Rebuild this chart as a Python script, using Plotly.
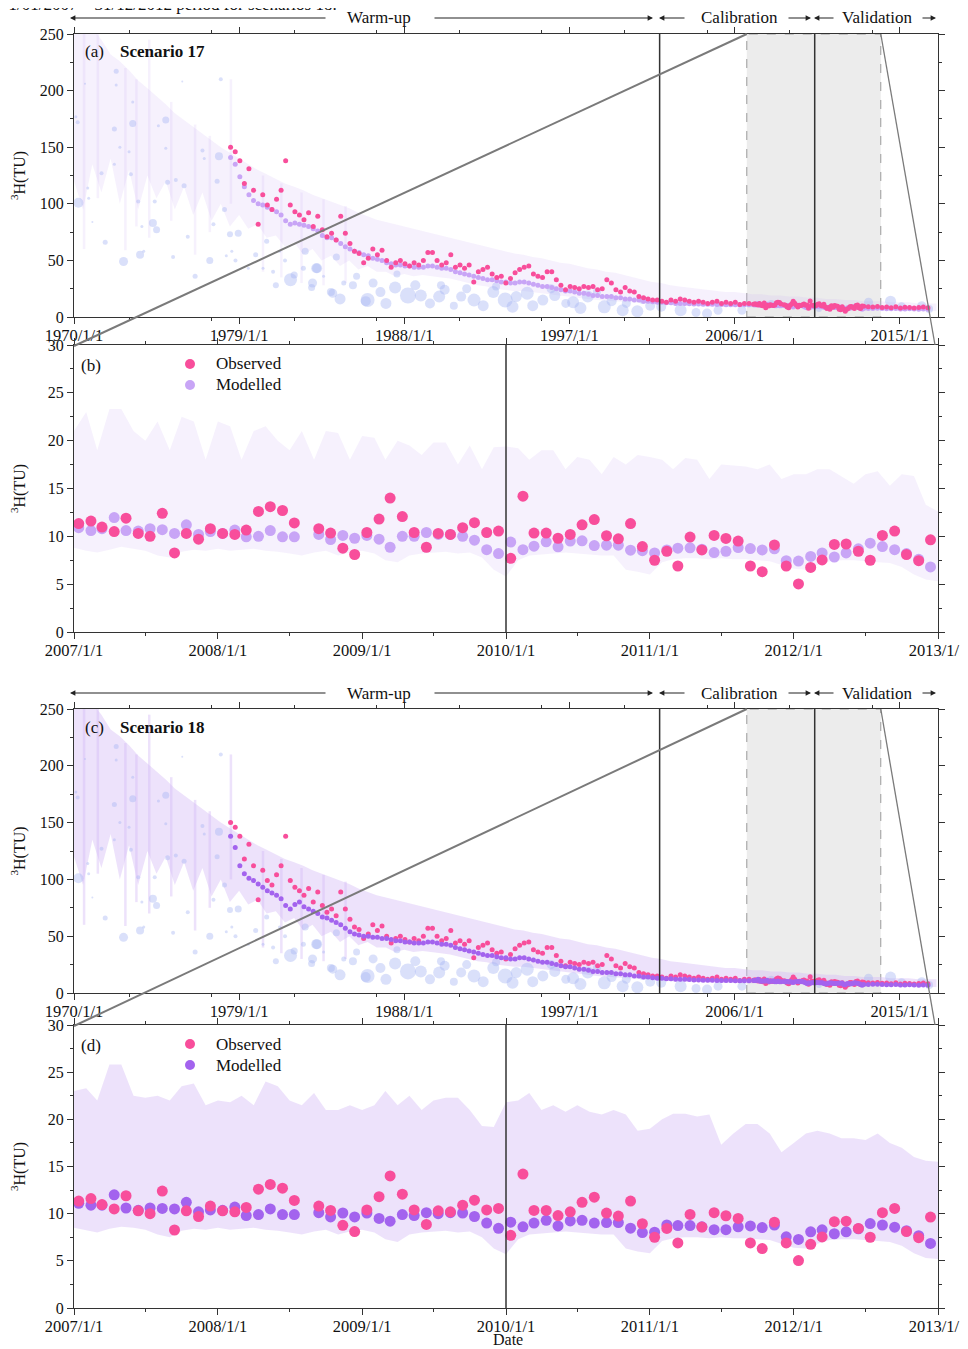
import pandas as pd
import plotly.graph_objects as go

# ---------------- DATA ----------------
# Long panels (a),(c): quarterly points 1978Q3 - 2006Q4
obs_q_early = [150, 146,
               138, 118, 131, 112,   82, 108, 99, 95,   104, 112, 138, 99,   93, 90, 86, 92,
               80, 89, 77, 71,       74, 68, 89, 74,    65, 58, 56, 48,      52, 60, 55, 59,
               50, 44, 48, 50,       47, 45, 48, 46,    50, 57, 57, 50,      46, 48, 55, 44,
               46, 43, 46, 31,       40, 42, 44, 38,    35, 36, 30, 34,      39, 42, 44, 45,
               38, 36, 35, 40,       40, 33, 28, 24,    27, 26, 25, 27,      26, 27, 24, 25,
               33, 30, 24, 22,       26, 23, 22, 18,    17, 16, 15, 15,      14, 13, 15, 14,
               16, 15, 14, 13,       14, 13, 12, 13,    14, 12, 13, 12,      13, 11, 12, 12]
mod17_q_early = [141, 135,
                 124, 115, 108, 103,  100, 99, 97, 95,  93, 90, 85, 82,  83, 82, 81, 80,
                 78, 76, 72, 70,      70, 68, 65, 62,   60, 58, 57, 55,  54, 52, 51, 50]
mod18_q_early = [138, 128,
                 112, 105, 101, 99,   96, 93, 90, 88,   86, 83, 77, 74,  78, 80, 76, 74,
                 72, 70, 67, 66,      64, 62, 60, 57,   54, 52, 51, 50,  50, 49, 49, 48]
mod_q_mid = [48, 47, 46, 46,  45, 45, 44, 44,  44, 45, 45, 44,  43, 43, 42, 40,
             39, 38, 37, 36,  35, 34, 33, 33,  32, 31, 31, 30,  30, 31, 31, 30,
             29, 28, 27, 27,  26, 25, 24, 23,  23, 22, 21, 21,  20, 19, 19, 18,
             18, 18, 17, 17,  16, 16, 15, 15,  14, 14, 13.5, 13,  13, 12.5, 12.5, 12,
             12, 12, 11.8, 11.5,  11.5, 11.3, 11.2, 11.2,  11, 11, 10.9, 10.9,  10.8, 10.8, 10.8, 10.8]
# quarterly 2013Q1 - 2016Q3
obs_q_late = [9.5, 9.0, 8.8, 9.2, 8.5, 8.8, 8.2, 9.0, 8.0, 8.6, 8.3, 8.0, 8.4, 8.8, 8.1]
mod_q_late = [7.5, 7.4, 7.6, 7.8, 7.5, 7.3, 7.2, 7.4, 7.1, 7.0, 7.2, 7.0, 6.9, 7.1, 6.9]

# Monthly 2007-01 .. 2012-12 (panels b, d)
obs_m = [11.33, 11.6, 10.97, 10.5, 11.9, 10.3, 10.0, 12.4, 8.27, 10.3, 9.7, 10.8,
         10.3, 10.2, 10.66, 12.6, 13.1, 12.7, 11.4, None, 10.8, 10.34, 8.76, 8.1,
         10.4, 11.8, 14.0, 12.07, 10.4, 8.86, 10.3, 10.2, 10.9, 11.43, 10.4, 10.55,
         7.7, 14.2, 10.34, 10.34, 9.8, 10.2, 11.2, 11.75, 10.06, 9.74, 11.33, 8.93,
         7.5, 8.44, 6.9, 9.92, 8.58, 10.1, 9.78, 9.5, 6.9, 6.3, 9.1, 6.9,
         5.03, 6.75, 7.53, 9.15, 9.2, 8.44, 7.5, 10.1, 10.55, 8.1, 7.46, 9.64]
mod17_m = [10.9, 10.6, 10.8, 11.96, 10.6, 10.55, 10.8, 10.7, 10.3, 11.2, 10.2, 10.5,
           10.3, 10.66, 9.95, 10.0, 10.6, 9.95, 9.95, None, 10.2, 9.67, 10.1, 9.8,
           10.1, 9.7, 8.86, 10.0, 10.0, 10.4, 10.2, 10.2, 10.0, 9.6, 8.6, 8.2,
           9.4, 8.6, 8.97, 9.43, 8.9, 9.5, 9.53, 9.04, 9.07, 9.07, 8.55, 8.5,
           8.27, 8.58, 8.76, 8.8, 8.65, 8.3, 8.44, 8.83, 8.72, 8.58, 8.7, 7.46,
           7.42, 7.9, 8.27, 7.84, 8.27, 8.7, 9.29, 8.93, 8.6, 8.2, 7.6, 6.8]
mod18_m = [11.1, 10.9, 10.9, 12.0, 10.6, 10.35, 10.6, 10.56, 10.5, 11.2, 10.2, 10.4,
           10.35, 10.7, 9.8, 9.9, 10.5, 9.9, 9.9, None, 10.1, 9.65, 10.07, 9.65,
           10.07, 9.5, 9.2, 9.9, 9.8, 10.1, 10.0, 10.1, 10.07, 9.7, 9.0, 8.45,
           9.1, 8.6, 9.0, 9.3, 8.7, 9.23, 9.3, 9.0, 9.06, 9.06, 8.46, 8.0,
           8.04, 8.8, 8.74, 8.74, 8.6, 8.3, 8.3, 8.6, 8.7, 8.53, 8.8, 7.55,
           7.27, 8.08, 8.29, 7.87, 8.08, 8.4, 8.95, 8.8, 8.57, 8.2, 7.66, 6.85]

# Modelled range band, long panels (semi-annual 1970.0 .. 2017.0)
band_long_upper = [270, 262, 255, 245, 232, 226, 218, 209, 202, 195, 188, 180, 174, 168, 162, 156,
                   150, 145, 140, 135, 130, 126, 122, 118, 115, 112, 108, 105, 102, 99, 96, 92,
                   89, 86, 84, 82, 80, 78, 76, 74, 72, 70, 68, 66, 64, 62, 60, 58,
                   56, 55, 53, 52, 50, 48, 47, 45, 43, 42, 40, 39, 37, 35, 33, 31,
                   30, 28, 27, 26, 25, 24, 23, 22, 22, 21, 20, 20, 19, 19, 18, 18,
                   17, 17, 16, 16, 15, 15, 14, 14, 14, 13, 13, 13, 12, 12, 12]
band_long_lower = [120, 95, 135, 110, 140, 100, 130, 95, 125, 105, 120, 95, 115, 90, 110, 85,
                   100, 80, 90, 78, 82, 70, 72, 62, 66, 55, 60, 50, 54, 45, 50, 42,
                   45, 40, 40, 36, 38, 36, 37, 36, 35, 34, 32, 30, 28, 27, 25, 24,
                   23, 23, 22, 21, 20, 19, 18, 17, 16, 15, 14.5, 14, 13, 12.5, 12, 11.5,
                   11, 10.5, 10, 9.8, 9.5, 9.3, 9.0, 8.8, 8.7, 8.6, 8.5, 8.5, 8.4, 8.3, 8.2, 8.0,
                   6.0, 7.8, 7.5, 7.4, 7.0, 7.0, 6.5, 6.3, 6.2, 6.0, 5.8, 5.7, 5.5, 5.4, 5.3]
# Narrow spikes of the modelled range in the warm-up years (year, low, high)
spike_year = [1970.55, 1971.3, 1972.8, 1973.4, 1974.1, 1975.3, 1976.6, 1977.4, 1978.55,
              1980.3, 1981.3, 1982.4, 1983.6, 1984.8]
spike_low = [60, 105, 59, 80, 70, 85, 55, 75, 100, 40, 35, 30, 28, 30]
spike_high = [250, 250, 220, 210, 245, 190, 170, 160, 210, 125, 118, 110, 104, 98]

# Modelled range band, short panels (monthly 2007-01 .. 2013-01)
band_b_upper = [21, 23, 19, 23.3, 23.3, 21, 20, 22, 19, 22.5, 22, 18,
                22, 21.5, 18, 21, 21.5, 20, 19, 21, 18, 21, 20.8, 18,
                20.5, 20.3, 18, 20, 19.5, 18.5, 19.8, 19.8, 17.5, 19.5, 17, 19.3,
                19.4, 19.2, 18, 19, 19, 17, 18.3, 18, 16.5, 18.3, 17.5, 18.5,
                18.3, 18, 17, 18.2, 18, 16, 17.5, 17.4, 17.3, 17, 17.5, 16,
                16.5, 16.5, 17, 17, 16.3, 15.5, 16.5, 16.8, 15.3, 16.5, 16.3, 13.3, 12.6]
band_b_lower = [8.8, 8.5, 8.3, 8.6, 8.9, 8.7, 8.5, 8.0, 7.8, 8.4, 8.6, 8.5,
                8.7, 8.5, 8.6, 8.7, 8.5, 8.4, 8.2, 8.0, 8.3, 8.5, 8.0, 8.3,
                8.5, 8.2, 7.5, 7.3, 8.0, 8.2, 8.3, 8.4, 8.2, 8.3, 7.8, 6.5,
                5.8, 7.5, 8.0, 8.1, 8.2, 8.3, 8.2, 8.1, 8.0, 8.0, 6.5, 6.3,
                6.0, 7.3, 7.6, 7.7, 7.7, 7.6, 7.7, 7.6, 7.6, 7.5, 7.4, 7.0,
                6.6, 6.5, 7.0, 7.4, 7.5, 7.5, 7.4, 7.3, 7.2, 6.8, 6.0, 5.5, 5.3]
band_d_upper = [23, 23.3, 22, 25.8, 25.8, 22.5, 22.3, 22.5, 22, 23.5, 23.8, 21.5,
                22, 21.8, 22.5, 21.5, 24, 23.5, 22, 21.5, 22.8, 21, 21, 21.5,
                21, 21.5, 23, 21.5, 22.5, 21, 22, 22.3, 22.3, 21, 19.3, 19.2,
                21.8, 22, 22.8, 21, 21.5, 20.8, 21.5, 20.8, 20.5, 21, 20.5, 18.8,
                19, 20, 20.6, 20.6, 20.3, 20.5, 17.3, 18.5, 19.5, 19.5, 18.5, 16.5,
                17.5, 18.5, 18.8, 18.5, 18, 18, 17.8, 18.5, 17.5, 17, 16, 15.6, 15.5]
band_d_lower = [8.5, 8.2, 8.0, 8.4, 8.6, 8.5, 8.3, 7.8, 7.5, 8.2, 8.4, 8.3,
                8.5, 8.3, 8.4, 8.5, 8.3, 8.2, 8.0, 7.8, 8.1, 8.3, 7.8, 8.1,
                8.3, 8.0, 7.3, 7.0, 7.8, 8.0, 8.1, 8.2, 8.0, 8.1, 7.5, 6.3,
                5.7, 7.3, 7.8, 7.9, 8.0, 8.1, 8.0, 7.9, 7.8, 7.8, 6.3, 6.0,
                5.8, 7.1, 7.4, 7.5, 7.5, 7.4, 7.5, 7.4, 7.4, 7.3, 7.2, 6.8,
                6.4, 6.3, 6.8, 7.2, 7.3, 7.3, 7.2, 7.1, 7.0, 6.6, 5.8, 5.3, 5.2]

# Background bubbles (decimal year, value, diameter)
bub_year = [1970.24, 1970.2, 1970.1, 1970.6, 1970.75, 1970.8, 1971.0, 1971.5, 1971.7, 1972.2,
            1972.3, 1972.3, 1972.2, 1972.5, 1972.7, 1973.0, 1973.1, 1973.2, 1973.2, 1973.6,
            1973.7, 1973.8, 1973.5, 1974.3, 1974.5, 1974.6, 1974.4, 1975.0, 1975.0, 1975.1,
            1975.4, 1975.55, 1975.9, 1976.0, 1976.2, 1976.6, 1977.0, 1977.1, 1977.4, 1977.6,
            1977.8, 1977.9, 1978.0, 1978.2, 1978.5, 1978.3, 1978.6, 1978.8, 1979.5, 1979.9,
            1980.3, 1980.5, 1980.85, 1981.0, 1981.2, 1981.5, 1981.8, 1982.0, 1982.6, 1982.5,
            1982.95, 1983.2, 1983.6, 1984.0, 1984.3, 1984.7, 1985.2, 1985.4, 1985.9, 1986.0,
            1986.7, 1987.5, 1987.6, 1988.2, 1988.9, 1989.9, 1990.2, 1990.7, 1991.1, 1991.8,
            1992.85, 1993.5, 1994.1, 1994.7, 1995.55, 1996.2, 1996.8, 1997.2, 1998.0, 1998.9,
            1999.9, 2000.1, 2001.4, 2002.0, 2003.06, 2003.9, 2005.1, 2006.4, 2008.0, 2010.6,
            2013.3, 2014.5, 2015.1, 2016.2, 2016.6, 1978.95, 1983.25, 1984.1,
            1986.3, 1987.0, 1988.6, 1989.4, 1990.0, 1991.4, 1992.3, 1993.0, 1993.9, 1995.0,
            1996.0, 1997.6, 1998.5, 1999.3, 2000.7, 2001.0, 2004.5, 1984.5, 1983.0]
bub_val = [101, 172, 177, 206, 114, 105, 84, 127, 66, 135,
           217, 205, 166, 150, 49, 146, 126, 190, 171, 55,
           80, 58, 102, 83, 77, 169, 102, 174, 149, 119,
           53, 121, 208, 116, 71, 36, 147, 140, 50, 82,
           120, 142, 210, 95, 73, 54, 58, 50, 43, 55,
           43, 67, 40, 28, 58, 50, 33, 37, 58, 43,
           26, 43, 36, 22, 53, 30, 28, 36, 14, 15,
           22, 26, 38, 19, 19, 18, 24, 10, 18, 15,
           22, 15, 18, 21, 15, 19, 12, 13, 18, 9,
           6, 12, 10, 9, 6, 4, 6, 6, 12, 7,
           13, 14, 9, 10, 7, 74, 43, 21,
           30, 12, 28, 12, 28, 25, 10, 27, 9, 10,
           25, 8, 22, 14, 5, 15, 3, 16, 30]
bub_size = [10, 4, 3, 2, 3, 3, 2, 4, 5, 3,
            5, 3, 5, 3, 9, 3, 4, 3, 7, 8,
            3, 3, 4, 8, 7, 3, 4, 7, 3, 5,
            4, 4, 2, 5, 4, 5, 4, 3, 7, 4,
            5, 8, 4, 5, 6, 3, 3, 4, 3, 5,
            3, 5, 4, 6, 3, 4, 13, 7, 7, 5,
            7, 10, 3, 8, 7, 5, 8, 7, 10, 14,
            10, 12, 7, 16, 12, 12, 10, 8, 10, 13,
            12, 15, 11, 13, 11, 11, 9, 12, 12, 13,
            12, 9, 10, 10, 12, 9, 9, 9, 7, 6,
            9, 11, 9, 9, 8, 7, 10, 9,
            9, 11, 10, 10, 8, 9, 11, 8, 12, 11,
            9, 12, 8, 10, 12, 8, 10, 11, 9]

# Legend labels
legend_labels = ["Observed", "Modelled"]

# Period boundaries
calib_start = "2001-12-01"
valid_start = "2010-05-15"
zoom_start = "2006-09-01"
zoom_end = "2013-12-20"
long_range = ["1970-01-01", "2017-02-01"]
short_range = ["2007-01-01", "2013-01-01"]

# ---------------- BUILD ----------------
OFF = 8                      # page body margin of the browser
W, H = 968 - OFF, 1349 - OFF
ML = 74 - OFF
MR = W - (938 - OFF)
PW = W - ML - MR


def px(x):
    return (x - OFF - ML) / PW


def py(y):
    return 1 - (y - OFF) / H


def dates(start, n, freq, shift_days=0):
    return list(pd.date_range(start, periods=n, freq=freq) + pd.Timedelta(days=shift_days))


def yr2date(y):
    return pd.Timestamp("1970-01-01") + pd.Timedelta(days=(y - 1970) * 365.25)


q_early_x = dates("1978-07-01", len(obs_q_early), "3MS", 14)
m_x = dates("2007-01-01", len(obs_m), "MS", 12)
q_late_x = dates("2013-01-01", len(obs_q_late), "3MS", 14)
band_long_x = dates("1970-01-01", len(band_long_upper), "6MS")
band_short_x = dates("2007-01-01", len(band_b_upper), "MS")
bub_x = [yr2date(y) for y in bub_year]

spike_x, spike_y = [], []
for yv, lo, hi in zip(spike_year, spike_low, spike_high):
    d = yr2date(yv)
    spike_x += [d, d, None]
    spike_y += [lo, hi, None]

long_x = q_early_x + m_x + q_late_x
obs_long = obs_q_early + obs_m + obs_q_late
mod17_long = mod17_q_early + mod_q_mid + mod17_m + mod_q_late
mod18_long = mod18_q_early + mod_q_mid + mod18_m + mod_q_late

OBS = "#f84e9b"
MOD17 = "#c8a5f6"
MOD18 = "#a363ee"
BUB = "rgba(168,182,244,0.6)"
BAND17 = "rgba(212,186,246,0.2)"
BAND18 = "rgba(212,186,246,0.42)"
SERIF = "Liberation Serif"
TXT = "#111"

fig = go.Figure()


def band(x, up, lo, color, xa, ya):
    fig.add_trace(go.Scatter(x=x + x[::-1], y=up + lo[::-1], fill="toself", fillcolor=color,
                             line=dict(width=0), mode="lines", hoverinfo="skip",
                             showlegend=False, xaxis=xa, yaxis=ya))


def spikes(color, xa, ya):
    fig.add_trace(go.Scatter(x=spike_x, y=spike_y, mode="lines", line=dict(color=color, width=2.5),
                             hoverinfo="skip", showlegend=False, xaxis=xa, yaxis=ya))


def bubbles(xa, ya):
    fig.add_trace(go.Scatter(x=bub_x, y=bub_val, mode="markers",
                             marker=dict(color=BUB, size=bub_size, line=dict(width=0)),
                             showlegend=False, xaxis=xa, yaxis=ya))


def pts(x, y, color, size, xa, ya, name):
    fig.add_trace(go.Scatter(x=x, y=y, mode="markers", name=name,
                             marker=dict(color=color, size=size, line=dict(width=0)),
                             showlegend=False, xaxis=xa, yaxis=ya))


# panel (a)
band(band_long_x, band_long_upper, band_long_lower, BAND17, "x", "y")
spikes(BAND17, "x", "y")
bubbles("x", "y")
pts(long_x, mod17_long, MOD17, 5, "x", "y", "Modelled")
pts(long_x, obs_long, OBS, 5, "x", "y", "Observed")
# panel (b)
band(band_short_x, band_b_upper, band_b_lower, BAND17, "x2", "y2")
pts(m_x, mod17_m, MOD17, 11, "x2", "y2", "Modelled")
pts(m_x, obs_m, OBS, 11, "x2", "y2", "Observed")
# panel (c)
band(band_long_x, band_long_upper, band_long_lower, BAND18, "x3", "y3")
spikes(BAND18, "x3", "y3")
bubbles("x3", "y3")
pts(long_x, obs_long, OBS, 5, "x3", "y3", "Observed")
pts(long_x, mod18_long, MOD18, 5, "x3", "y3", "Modelled")
# panel (d)
band(band_short_x, band_d_upper, band_d_lower, BAND18, "x4", "y4")
pts(m_x, mod18_m, MOD18, 11, "x4", "y4", "Modelled")
pts(m_x, obs_m, OBS, 11, "x4", "y4", "Observed")

AX = "#333333"


def xaxis(rng, dtick, mdtick, anchor):
    return dict(type="date", range=rng, tick0=rng[0], dtick=dtick, tickformat="%Y/%-m/%-d",
                ticks="outside", ticklen=6, tickwidth=1.2, tickcolor=AX, ticklabelstandoff=-3,
                minor=dict(dtick=mdtick, ticks="outside", ticklen=3, tickcolor=AX, tickwidth=1),
                showline=True, linecolor=AX, linewidth=1.3, mirror="ticks",
                showgrid=False, zeroline=False, tickfont=dict(family=SERIF, size=16.5, color=TXT),
                anchor=anchor, domain=[0, 1], automargin=False)


def yaxis(top, bot, rng, dtick, mdtick, anchor, standoff):
    return dict(range=rng, dtick=dtick, ticks="outside", ticklen=6, tickwidth=1.2, tickcolor=AX,
                minor=dict(dtick=mdtick, ticks="outside", ticklen=3, tickcolor=AX, tickwidth=1),
                showline=True, linecolor=AX, linewidth=1.3, mirror="ticks",
                showgrid=False, zeroline=False, tickfont=dict(family=SERIF, size=16, color=TXT),
                anchor=anchor, domain=[py(bot), py(top)], automargin=False,
                title=dict(text="<sup>3</sup>H(TU)", font=dict(family=SERIF, size=16, color=TXT),
                           standoff=standoff))


panels = {"a": (34, 317), "b": (345, 632), "c": (709, 993), "d": (1025, 1308)}

fig.update_layout(
    width=W, height=H, margin=dict(l=ML, r=MR, t=0, b=0),
    paper_bgcolor="white", plot_bgcolor="white", showlegend=False,
    xaxis=xaxis(long_range, "M108", "M54", "y"),
    yaxis=yaxis(*panels["a"], [0, 250], 50, 25, "x", 18),
    xaxis2=xaxis(short_range, "M12", "M6", "y2"),
    yaxis2=yaxis(*panels["b"], [0, 30], 5, 2.5, "x2", 26),
    xaxis3=xaxis(long_range, "M108", "M54", "y3"),
    yaxis3=yaxis(*panels["c"], [0, 250], 50, 25, "x3", 18),
    xaxis4=xaxis(short_range, "M12", "M6", "y4"),
    yaxis4=yaxis(*panels["d"], [0, 30], 5, 2.5, "x4", 26),
)

t0, t1 = pd.Timestamp(long_range[0]), pd.Timestamp(long_range[1])


def fx(d):
    return (pd.Timestamp(d) - t0) / (t1 - t0)


shapes = []
annotations = []
for key, xa, ya, sb, lab, scen in [("a", "x", "y", "b", "(a)", "Scenario 17"),
                                   ("c", "x3", "y3", "d", "(c)", "Scenario 18")]:
    top, bot = panels[key]
    stop, sbot = panels[sb]
    # zoom window
    shapes.append(dict(type="rect", xref=xa, yref=ya, x0=zoom_start, x1=zoom_end, y0=0, y1=250,
                       fillcolor="#ececec", line=dict(color="#9a9a9a", width=1, dash="dash"),
                       layer="below"))
    for d in (calib_start, valid_start):
        shapes.append(dict(type="line", xref=xa, yref=ya, x0=d, x1=d, y0=0, y1=250,
                           line=dict(color="#333", width=1.5), layer="above"))
    # connectors to zoomed panel
    shapes.append(dict(type="line", xref="paper", yref="paper", x0=fx(zoom_start), y0=py(top),
                       x1=0, y1=py(stop + 1), line=dict(color="#7a7a7a", width=2)))
    shapes.append(dict(type="line", xref="paper", yref="paper", x0=fx(zoom_end), y0=py(top),
                       x1=px(935), y1=py(stop), line=dict(color="#7a7a7a", width=1.3)))
    # panel labels
    annotations.append(dict(xref="paper", yref="paper", x=px(83), y=py(top + 18), text=lab,
                            showarrow=False, xanchor="left", yanchor="middle",
                            font=dict(family=SERIF, size=17, color=TXT)))
    annotations.append(dict(xref="paper", yref="paper", x=px(118), y=py(top + 18),
                            text="<b>" + scen + "</b>", showarrow=False, xanchor="left",
                            yanchor="middle", font=dict(family=SERIF, size=17, color=TXT)))
    # period arrows
    ty = top - 16
    for head, tail in [(70, 327), (653, 433), (659, 686), (811, 787), (814, 835), (936, 921)]:
        annotations.append(dict(xref="paper", yref="paper", x=px(head), y=py(ty), ax=tail - head,
                                ay=0, text="", showarrow=True, arrowhead=2, arrowsize=0.9,
                                arrowwidth=1.2, arrowcolor="#222", standoff=0))
    for txt, cx in [("Warm-up", 379), ("Calibration", 739), ("Validation", 877)]:
        annotations.append(dict(xref="paper", yref="paper", x=px(cx), y=py(ty), text=txt,
                                showarrow=False, xanchor="center", yanchor="middle",
                                font=dict(family=SERIF, size=17, color=TXT)))

for xa, ya, key, lab, mcol in [("x2", "y2", "b", "(b)", MOD17), ("x4", "y4", "d", "(d)", MOD18)]:
    top, bot = panels[key]
    shapes.append(dict(type="line", xref=xa, yref=ya, x0="2010-01-01", x1="2010-01-01",
                       y0=0, y1=30, line=dict(color="#333", width=1.5), layer="above"))
    annotations.append(dict(xref="paper", yref="paper", x=px(79), y=py(top + 20), text=lab,
                            showarrow=False, xanchor="left", yanchor="middle",
                            font=dict(family=SERIF, size=17, color=TXT)))
    # legend (drawn keys)
    for i, (name, col) in enumerate(zip(legend_labels, [OBS, mcol])):
        cy = top + 19 + 21 * i
        shapes.append(dict(type="circle", xref="paper", yref="paper",
                           x0=px(185), x1=px(195), y0=py(cy + 5), y1=py(cy - 5),
                           fillcolor=col, line=dict(width=0)))
        annotations.append(dict(xref="paper", yref="paper", x=px(214), y=py(cy), text=name,
                                showarrow=False, xanchor="left", yanchor="middle",
                                font=dict(family=SERIF, size=17, color=TXT)))

# x-axis title of the bottom panel
annotations.append(dict(xref="paper", yref="paper", x=px(508), y=py(1339), text="Date",
                        showarrow=False, xanchor="center", yanchor="middle",
                        font=dict(family=SERIF, size=16, color=TXT)))

annotations.append(dict(xref="paper", yref="paper", x=px(-2), y=py(4),
                        text="01/01/2007 \u2013 31/12/2012 period for scenarios 18.",
                        showarrow=False, xanchor="left", yanchor="middle",
                        font=dict(family=SERIF, size=17, color=TXT)))

fig.update_layout(shapes=shapes, annotations=annotations)
fig.write_html("out.html")
